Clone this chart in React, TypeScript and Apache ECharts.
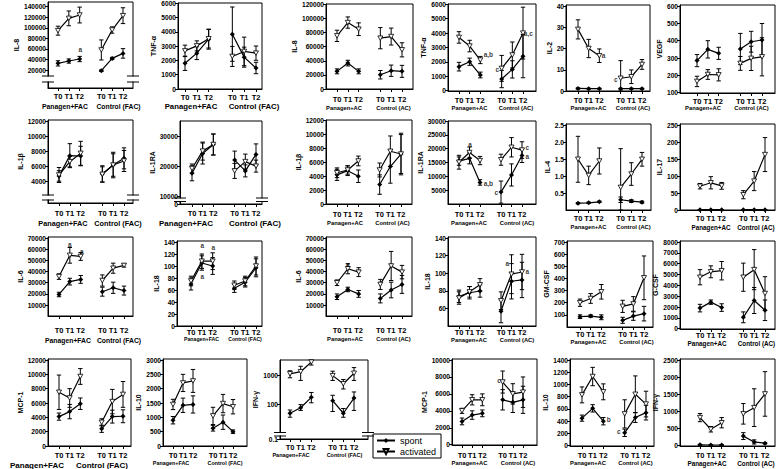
import React, { useEffect, useRef } from 'react';
import * as echarts from 'echarts';

const FONT = '"Liberation Sans", Arial, Helvetica, sans-serif';

const TIME_LABELS = ['T0', 'T1', 'T2', '', 'T0', 'T1', 'T2'];
const X_POS = [0, 1, 2, 4, 5, 6];
const GROUPS_FAC = ['Panagen+FAC', 'Control (FAC)'];
const GROUPS_AC = ['Panagen+AC', 'Control (AC)'];
const LEGEND_NAMES = ['spont', 'activated'];

// values: [Panagen T0, T1, T2, Control T0, T1, T2]
// Row 1
const il8FacSpont = [32600, 37000, 40800, 18700, 42000, 51500];
const il8FacSpontErr = [5000, 4000, 5000, 1500, 2000, 9000];
const il8FacAct = [94500, 117900, 124200, 58000, 95800, 123000];
const il8FacActErr = [8500, 14000, 15000, 19000, 6000, 15000];
const il8FacTicks = [20000, 40000, 60000, 80000, 100000, 120000, 140000];
const il8FacNotes = [[2.05, 58000, 'a']];

const tnfFacSpont = [1800, 2510, 3490, 3840, 2230, 1470];
const tnfFacSpontErr = [500, 450, 700, 1900, 700, 400];
const tnfFacAct = [2670, 3020, 3520, 2280, 2630, 2510];
const tnfFacActErr = [400, 350, 650, 700, 1000, 500];
const tnfFacTicks = [0, 1000, 2000, 3000, 4000, 5000, 6000];

const il8AcSpont = [25000, 36700, 25000, 20200, 25900, 25000];
const il8AcSpontErr = [3500, 4000, 3500, 6000, 8000, 8500];
const il8AcAct = [75300, 94100, 84700, 72000, 74300, 55500];
const il8AcActErr = [8000, 8000, 9000, 15000, 12000, 10000];
const il8AcTicks = [0, 20000, 40000, 60000, 80000, 100000, 120000];

const tnfAcSpont = [1670, 2010, 1090, 810, 1480, 2400];
const tnfAcSpontErr = [300, 250, 200, 600, 600, 1500];
const tnfAcAct = [3700, 3100, 2130, 1550, 2480, 4000];
const tnfAcActErr = [400, 400, 250, 900, 900, 1800];
const tnfAcTicks = [0, 1000, 2000, 3000, 4000, 5000, 6000];
const tnfAcNotes = [[2.75, 2480, 'a,b'], [3.6, 1440, 'c'], [6.5, 4000, 'a,c']];

const il2AcSpont = [1.2, 1.1, 1.1, 1.1, 1.1, 1.1];
const il2AcSpontErr = [0.3, 0.2, 0.2, 0.2, 0.2, 0.2];
const il2AcAct = [29, 20, 16.6, 6, 6.7, 12.5];
const il2AcActErr = [4.5, 4.3, 3.2, 8.3, 3.2, 2.3];
const il2AcTicks = [0, 10, 20, 30, 40];
const il2AcNotes = [[2.4, 16.5, 'a'], [3.55, 5.6, 'c']];

const vegfAcSpont = [285, 350, 327, 352, 394, 404];
const vegfAcSpontErr = [35, 50, 35, 90, 60, 95];
const vegfAcAct = [165, 205, 203, 269, 298, 307];
const vegfAcActErr = [30, 28, 35, 40, 70, 110];
const vegfAcTicks = [100, 200, 300, 400, 500, 600];

// Row 2
const il1bFacSpont = [4670, 7380, 7330, 4930, 6130, 7020];
const il1bFacSpontErr = [700, 1600, 1300, 1100, 1700, 1400];
const il1bFacAct = [4800, 6580, 7690, 4890, 6130, 6670];
const il1bFacActErr = [1000, 700, 1600, 1000, 1500, 1400];
const il1bFacTicks = [4000, 6000, 8000, 10000, 12000];

const il1raFacSpont = [17800, 24400, 27400, 22200, 18600, 24100];
const il1raFacSpontErr = [2500, 3500, 3500, 3000, 2000, 3500];
const il1raFacAct = [19400, 25200, 27400, 18600, 21700, 20200];
const il1raFacActErr = [1500, 3000, 3500, 2500, 2500, 2000];
const il1raFacTicks = [10000, 20000, 30000];

const il1bAcSpont = [4200, 4800, 4000, 2800, 5400, 7200];
const il1bAcSpontErr = [800, 700, 900, 1400, 2400, 2800];
const il1bAcAct = [4500, 4900, 6200, 4900, 7600, 7200];
const il1bAcActErr = [700, 600, 700, 1000, 2200, 3000];
const il1bAcTicks = [0, 2000, 4000, 6000, 8000, 10000, 12000];

const il1raAcSpont = [15500, 16500, 7800, 4300, 10500, 17500];
const il1raAcSpontErr = [1500, 2000, 1000, 4000, 4000, 2500];
const il1raAcAct = [15100, 18600, 15700, 16000, 20500, 19500];
const il1raAcActErr = [2500, 2000, 1500, 2000, 3500, 3000];
const il1raAcTicks = [0, 5000, 10000, 15000, 20000, 25000, 30000];
const il1raAcNotes = [[1.05, 21500, 'a'], [2.8, 7500, 'a,b'], [3.55, 4300, 'c'], [6.5, 20300, 'c'], [6.5, 17300, 'a']];

const il4AcSpont = [0.22, 0.23, 0.26, 0.32, 0.28, 0.25];
const il4AcSpontErr = [0.02, 0.02, 0.02, 0.08, 0.04, 0.03];
const il4AcAct = [1.5, 1.03, 1.45, 0.68, 1.07, 1.5];
const il4AcActErr = [0.67, 0.27, 0.38, 1.13, 0.33, 0.2];
const il4AcTicks = [0, 0.5, 1, 1.5, 2, 2.5];

const il17AcSpont = [1, 1, 1, 1, 1, 1];
const il17AcSpontErr = [0, 0, 0, 0, 0, 0];
const il17AcAct = [70, 80, 71, 45, 85, 163];
const il17AcActErr = [8, 18, 10, 12, 28, 50];
const il17AcTicks = [0, 50, 100, 150, 200, 250];

// Row 3
const il6FacSpont = [19500, 31000, 33000, 22000, 25500, 23000];
const il6FacSpontErr = [2000, 3000, 3500, 4000, 5000, 4000];
const il6FacAct = [35500, 54500, 53500, 32000, 43000, 45500];
const il6FacActErr = [2500, 7000, 3500, 5000, 4500, 1500];
const il6FacTicks = [0, 10000, 20000, 30000, 40000, 50000, 60000, 70000];
const il6FacNotes = [[1, 63800, 'a'], [2.1, 57500, 'a']];

const il18FacSpont = [70, 105, 100, 63, 73, 97];
const il18FacSpontErr = [10, 12, 14, 7, 8, 15];
const il18FacAct = [75, 108, 108, 68, 75, 100];
const il18FacActErr = [8, 12, 14, 7, 8, 15];
const il18FacTicks = [0, 20, 40, 60, 80, 100, 120, 140];
const il18FacNotes = [[1.05, 135, 'a'], [2.05, 131, 'a'], [1.05, 82, 'a']];

const il6AcSpont = [17500, 24000, 20000, 16000, 23500, 28500];
const il6AcSpontErr = [2500, 2000, 3000, 4000, 7000, 8000];
const il6AcAct = [30000, 42500, 39500, 28500, 45000, 39500];
const il6AcActErr = [2500, 4500, 4000, 4500, 13000, 6000];
const il6AcTicks = [0, 10000, 20000, 30000, 40000, 50000, 60000, 70000];
const il6AcNotes = [[1, 46000, 'a']];

const il18AcSpont = [74, 78, 80, 57, 91, 92.5];
const il18AcSpontErr = [7, 7, 7, 13, 20, 20];
const il18AcAct = [72, 79, 87, 69, 99, 101.5];
const il18AcActErr = [7, 6, 7, 10, 22, 20];
const il18AcTicks = [40, 60, 80, 100, 120, 140];
const il18AcNotes = [[4.6, 111, 'a'], [6.5, 101.5, 'a']];

const gmcsfAcSpont = [85, 90, 80, 55, 90, 110];
const gmcsfAcSpontErr = [15, 10, 20, 25, 35, 60];
const gmcsfAcAct = [200, 235, 290, 170, 190, 405];
const gmcsfAcActErr = [30, 40, 60, 50, 60, 180];
const gmcsfAcTicks = [0, 100, 200, 300, 400, 500, 600, 700];

const gcsfAcSpont = [1900, 2450, 1950, 1050, 2600, 1700];
const gcsfAcSpontErr = [350, 200, 350, 500, 1200, 950];
const gcsfAcAct = [4750, 5250, 5350, 4750, 5450, 3250];
const gcsfAcActErr = [700, 550, 850, 1300, 1850, 1550];
const gcsfAcTicks = [0, 1000, 2000, 3000, 4000, 5000, 6000, 7000, 8000];

// Row 4
const mcp1FacSpont = [4100, 4800, 5900, 2400, 4100, 4150];
const mcp1FacSpontErr = [500, 1000, 800, 500, 900, 900];
const mcp1FacAct = [7500, 6700, 9700, 3300, 6200, 7200];
const mcp1FacActErr = [2400, 1300, 1100, 500, 1700, 1800];
const mcp1FacTicks = [0, 2000, 4000, 6000, 8000, 10000, 12000];

const il10FacSpont = [900, 1420, 1450, 620, 830, 500];
const il10FacSpontErr = [130, 250, 300, 100, 250, 60];
const il10FacAct = [1450, 2200, 2270, 1050, 1480, 1370];
const il10FacActErr = [180, 300, 400, 300, 320, 250];
const il10FacTicks = [0, 500, 1000, 1500, 2000, 2500, 3000];

const ifngFacSpont = [48, 74, 170, 130, 48, 160];
const ifngFacSpontLo = [35, 60, 110, 55, 35, 60];
const ifngFacSpontHi = [62, 95, 250, 200, 70, 260];
const ifngFacAct = [1100, 1300, 2800, 950, 500, 1150];
const ifngFacActLo = [800, 650, 2200, 650, 330, 650];
const ifngFacActHi = [1400, 2000, 3400, 1350, 700, 1800];
const ifngFacTicks = [10, 100, 1000];

const mcp1AcSpont = [2750, 3500, 3700, 5300, 5000, 5300];
const mcp1AcSpontErr = [400, 500, 400, 1200, 1200, 1600];
const mcp1AcAct = [4000, 5300, 5300, 7400, 6000, 6200];
const mcp1AcActErr = [300, 600, 700, 1300, 1200, 1800];
const mcp1AcTicks = [0, 2000, 4000, 6000, 8000, 10000];
const mcp1AcNotes = [[3.65, 7600, 'c']];

const il10AcSpont = [450, 610, 400, 210, 460, 540];
const il10AcSpontErr = [50, 60, 60, 60, 80, 120];
const il10AcAct = [830, 1130, 880, 520, 840, 680];
const il10AcActErr = [130, 150, 130, 230, 300, 210];
const il10AcTicks = [0, 200, 400, 600, 800, 1000, 1200, 1400];
const il10AcNotes = [[2.5, 420, 'b'], [3.45, 235, 'c']];

const ifngAcSpont = [25, 20, 20, 280, 110, 70];
const ifngAcSpontErr = [15, 10, 10, 100, 60, 20];
const ifngAcAct = [820, 480, 670, 930, 1110, 1510];
const ifngAcActErr = [120, 80, 150, 300, 550, 650];
const ifngAcTicks = [0, 500, 1000, 1500, 2000, 2500];

type Panel = {
  title: string; groups: string[]; gFont: number;
  gxy: number[]; // [panagen centre x, control centre x, time label y, group label y]
  box: number[]; xs: number[]; refs: number[][];
  ticks: number[]; log?: boolean; bottomLabel?: string; dec?: number;
  brk?: number[];
  spont: number[]; act: number[];
  spontErr?: number[]; actErr?: number[];
  spontLo?: number[]; spontHi?: number[]; actLo?: number[]; actHi?: number[];
  notes?: any[];
};

const SMALL = 5.8;

// (panels listed in drawing order)
const PANELS: Panel[] = [
  { title: 'IL-1RA', groups: GROUPS_FAC, gFont: 8, gxy: [186, 255, 213, 223], box: [180, 121, 262, 204], xs: [192, 256], refs: [[136.7, 30000], [166.7, 20000]], ticks: il1raFacTicks, bottomLabel: '0', brk: [198, 201.5], spont: il1raFacSpont, spontErr: il1raFacSpontErr, act: il1raFacAct, actErr: il1raFacActErr },
  { title: 'IFN-γ', groups: GROUPS_FAC, gFont: 5.5, gxy: [291, 344.5, 447, 455], box: [280, 360, 368, 439], xs: [290, 354], refs: [[375, 1000], [433, 10]], ticks: ifngFacTicks, log: true, bottomLabel: '0.1', brk: [432.5, 436], spont: ifngFacSpont, spontLo: ifngFacSpontLo, spontHi: ifngFacSpontHi, act: ifngFacAct, actLo: ifngFacActLo, actHi: ifngFacActHi },

  { title: 'IL-8', groups: GROUPS_FAC, gFont: 6.8, gxy: [65, 118.5, 96, 106], box: [48, 2, 133, 88], xs: [58, 123], refs: [[6.7, 140000], [70, 20000]], ticks: il8FacTicks, brk: [76, 82], spont: il8FacSpont, spontErr: il8FacSpontErr, act: il8FacAct, actErr: il8FacActErr, notes: il8FacNotes },
  { title: 'TNF-α', groups: GROUPS_FAC, gFont: 7.8, gxy: [191, 254, 97, 106], box: [178, 3, 262, 89], xs: [185, 256], refs: [[3.3, 6000], [89, 0]], ticks: tnfFacTicks, spont: tnfFacSpont, spontErr: tnfFacSpontErr, act: tnfFacAct, actErr: tnfFacActErr },
  { title: 'IL-8', groups: GROUPS_AC, gFont: SMALL, gxy: [344, 393.5, 99, 108], box: [326, 4, 413, 89], xs: [337, 402], refs: [[4.3, 120000], [89, 0]], ticks: il8AcTicks, spont: il8AcSpont, spontErr: il8AcSpontErr, act: il8AcAct, actErr: il8AcActErr },
  { title: 'TNF-α', groups: GROUPS_AC, gFont: SMALL, gxy: [469.5, 516, 100, 108], box: [448, 4, 536, 91], xs: [459, 523], refs: [[4.3, 6000], [90.7, 0]], ticks: tnfAcTicks, spont: tnfAcSpont, spontErr: tnfAcSpontErr, act: tnfAcAct, actErr: tnfAcActErr, notes: tnfAcNotes },
  { title: 'IL-2', groups: GROUPS_AC, gFont: SMALL, gxy: [588.5, 633, 100, 108], box: [566, 5, 650, 91], xs: [578, 642], refs: [[6, 40], [91, 0]], ticks: il2AcTicks, spont: il2AcSpont, spontErr: il2AcSpontErr, act: il2AcAct, actErr: il2AcActErr, notes: il2AcNotes },
  { title: 'VEGF', groups: GROUPS_AC, gFont: SMALL, gxy: [703, 751.5, 101, 108], box: [680, 5, 775, 93], xs: [697, 762], refs: [[6, 600], [92.7, 100]], ticks: vegfAcTicks, spont: vegfAcSpont, spontErr: vegfAcSpontErr, act: vegfAcAct, actErr: vegfAcActErr },

  { title: 'IL-1β', groups: GROUPS_FAC, gFont: 7.3, gxy: [63, 118, 213, 223], box: [48, 120, 133, 203], xs: [59, 124], refs: [[121, 12000], [181, 4000]], ticks: il1bFacTicks, brk: [195, 200], spont: il1bFacSpont, spontErr: il1bFacSpontErr, act: il1bFacAct, actErr: il1bFacActErr },
  { title: 'IL-1β', groups: GROUPS_AC, gFont: SMALL, gxy: [345, 392.5, 214, 223], box: [326, 120, 412, 204], xs: [337, 401], refs: [[120.7, 12000], [204, 0]], ticks: il1bAcTicks, spont: il1bAcSpont, spontErr: il1bAcSpontErr, act: il1bAcAct, actErr: il1bAcActErr },
  { title: 'IL-1RA', groups: GROUPS_AC, gFont: SMALL, gxy: [469, 517, 214, 223], box: [448, 121, 536, 204], xs: [459, 522], refs: [[121, 30000], [204, 0]], ticks: il1raAcTicks, spont: il1raAcSpont, spontErr: il1raAcSpontErr, act: il1raAcAct, actErr: il1raAcActErr, notes: il1raAcNotes },
  { title: 'IL-4', groups: GROUPS_AC, gFont: SMALL, gxy: [588.5, 633.5, 218, 227], box: [566, 124, 651, 210], xs: [578, 642], refs: [[125, 2.5], [210.7, 0]], ticks: il4AcTicks, dec: 1, spont: il4AcSpont, spontErr: il4AcSpontErr, act: il4AcAct, actErr: il4AcActErr },
  { title: 'IL-17', groups: GROUPS_AC, gFont: 6.3, gxy: [711, 756, 218, 227], box: [680, 124, 775, 210], xs: [700, 765], refs: [[125, 250], [210, 0]], ticks: il17AcTicks, spont: il17AcSpont, spontErr: il17AcSpontErr, act: il17AcAct, actErr: il17AcActErr },

  { title: 'IL-6', groups: GROUPS_FAC, gFont: 6.8, gxy: [68, 119, 330, 340], box: [48, 237, 133, 316], xs: [59, 124], refs: [[238, 70000], [316.3, 0]], ticks: il6FacTicks, spont: il6FacSpont, spontErr: il6FacSpontErr, act: il6FacAct, actErr: il6FacActErr, notes: il6FacNotes },
  { title: 'IL-18', groups: GROUPS_FAC, gFont: 5.2, gxy: [201.5, 245, 331, 339], box: [177, 241, 262, 326], xs: [191, 256], refs: [[242, 140], [326, 0]], ticks: il18FacTicks, spont: il18FacSpont, spontErr: il18FacSpontErr, act: il18FacAct, actErr: il18FacActErr, notes: il18FacNotes },
  { title: 'IL-6', groups: GROUPS_AC, gFont: SMALL, gxy: [345, 393.5, 330, 339], box: [326, 237, 412, 316], xs: [337, 402], refs: [[238, 70000], [316.3, 0]], ticks: il6AcTicks, spont: il6AcSpont, spontErr: il6AcSpontErr, act: il6AcAct, actErr: il6AcActErr, notes: il6AcNotes },
  { title: 'IL-18', groups: GROUPS_AC, gFont: SMALL, gxy: [469, 517, 332, 340], box: [448, 237, 536, 326], xs: [459, 522], refs: [[238, 140], [326.3, 40]], ticks: il18AcTicks, spont: il18AcSpont, spontErr: il18AcSpontErr, act: il18AcAct, actErr: il18AcActErr, notes: il18AcNotes },
  { title: 'GM-CSF', groups: GROUPS_AC, gFont: SMALL, gxy: [588.5, 636.5, 334, 342], box: [567, 241, 653, 327], xs: [580, 644], refs: [[242, 700], [327, 0]], ticks: gmcsfAcTicks, spont: gmcsfAcSpont, spontErr: gmcsfAcSpontErr, act: gmcsfAcAct, actErr: gmcsfAcActErr },
  { title: 'G-CSF', groups: GROUPS_AC, gFont: 6.3, gxy: [707, 756.5, 335, 343], box: [680, 241, 775, 329], xs: [700, 765], refs: [[242, 8000], [328.7, 0]], ticks: gcsfAcTicks, spont: gcsfAcSpont, spontErr: gcsfAcSpontErr, act: gcsfAcAct, actErr: gcsfAcActErr },

  { title: 'MCP-1', groups: GROUPS_FAC, gFont: 8, gxy: [37, 102, 455, 465], box: [48, 359, 131, 446], xs: [59, 123], refs: [[360, 12000], [446, 0]], ticks: mcp1FacTicks, spont: mcp1FacSpont, spontErr: mcp1FacSpontErr, act: mcp1FacAct, actErr: mcp1FacActErr },
  { title: 'IL-10', groups: GROUPS_FAC, gFont: 5.4, gxy: [171, 225, 455, 463], box: [163, 359, 247, 446], xs: [173, 233], refs: [[360, 3000], [446, 0]], ticks: il10FacTicks, spont: il10FacSpont, spontErr: il10FacSpontErr, act: il10FacAct, actErr: il10FacActErr },
  { title: 'MCP-1', groups: GROUPS_AC, gFont: SMALL, gxy: [469.5, 518, 455, 463], box: [452, 359, 537, 445], xs: [462, 523], refs: [[360, 10000], [444.7, 0]], ticks: mcp1AcTicks, spont: mcp1AcSpont, spontErr: mcp1AcSpontErr, act: mcp1AcAct, actErr: mcp1AcActErr, notes: mcp1AcNotes },
  { title: 'IL-10', groups: GROUPS_AC, gFont: SMALL, gxy: [588, 635.5, 455, 463], box: [570, 359, 654, 446], xs: [582, 646], refs: [[360, 1400], [445.7, 0]], ticks: il10AcTicks, spont: il10AcSpont, spontErr: il10AcSpontErr, act: il10AcAct, actErr: il10AcActErr, notes: il10AcNotes },
  { title: 'IFN-γ', groups: GROUPS_AC, gFont: 6.3, gxy: [707, 756, 455, 463], box: [680, 359, 775, 446], xs: [700, 765], refs: [[360, 2500], [445.7, 0]], ticks: ifngAcTicks, spont: ifngAcSpont, spontErr: ifngAcSpontErr, act: ifngAcAct, actErr: ifngAcActErr },
];

const DOWN_TRI = 'path://M0,0 L10,0 L5,9 Z';
const T_FONT = 7.5;

function renderErr(params: any, api: any) {
  const x = api.value(0), lo = api.value(1), hi = api.value(2);
  const a = api.coord([x, hi]);
  const b = api.coord([x, lo]);
  const w = 2.2;
  const st = { stroke: '#000', lineWidth: 1 };
  return {
    type: 'group',
    children: [
      { type: 'line', shape: { x1: a[0], y1: a[1], x2: b[0], y2: b[1] }, style: st },
      { type: 'line', shape: { x1: a[0] - w, y1: a[1], x2: a[0] + w, y2: a[1] }, style: st },
      { type: 'line', shape: { x1: b[0] - w, y1: b[1], x2: b[0] + w, y2: b[1] }, style: st },
    ],
  };
}

function buildOption() {
  const grid: any[] = [];
  const xAxis: any[] = [];
  const yAxis: any[] = [];
  const series: any[] = [];
  const graphic: any[] = [];

  PANELS.forEach((p, i) => {
    const [l, t, r, b] = p.box;
    grid.push({ left: l, top: t, width: r - l, height: b - t, show: true, borderColor: '#000', borderWidth: 1, backgroundColor: 'transparent', containLabel: false, outerBoundsMode: 'none' });
    const unit = (p.xs[1] - p.xs[0]) / 6;
    const xmin = -(p.xs[0] - l) / unit;
    const xmax = 6 + (r - p.xs[1]) / unit;
    // log panels are drawn on a log10-transformed value axis
    const tf = (v: number) => (p.log ? Math.log10(v) : v);
    const [[pa, va], [pb, vb]] = p.refs;
    const slope = (tf(vb) - tf(va)) / (pb - pa);
    const ymax = tf(va) + (t - pa) * slope;
    const ymin = tf(va) + (b - pa) * slope;
    const tickPos = p.ticks.map(tf);
    const yVals = p.bottomLabel ? [ymin, ...tickPos] : tickPos;
    const near = (v: number, w: number) => Math.abs(v - w) <= Math.abs(w) * 1e-6 + 1e-9;
    const fmtY = (v: number) => {
      if (p.bottomLabel && near(v, ymin)) return p.bottomLabel;
      if (p.log) return String(Math.round(Math.pow(10, v)));
      return p.dec ? v.toFixed(p.dec) : String(v);
    };
    const maxChars = Math.max(...yVals.map((v) => fmtY(v).length));
    const [g1, g2, tY, gY] = p.gxy;

    xAxis.push({
      type: 'value', gridIndex: i, min: xmin, max: xmax, position: 'bottom',
      axisLine: { show: true, onZero: false, lineStyle: { color: '#000', width: 1 } },
      axisTick: { show: true, customValues: X_POS, length: 3, lineStyle: { color: '#000' } },
      axisLabel: { customValues: X_POS, showMinLabel: true, showMaxLabel: true, hideOverlap: false, formatter: (v: number) => TIME_LABELS[Math.round(v)], fontSize: T_FONT, fontWeight: 'bold', fontFamily: FONT, color: '#000', margin: Math.max(2, tY - b - T_FONT / 2) },
      splitLine: { show: false },
    });
    yAxis.push({
      type: 'value', gridIndex: i, min: ymin, max: ymax, position: 'left',
      axisLine: { show: true, onZero: false, lineStyle: { color: '#000', width: 1 } },
      axisTick: { show: true, customValues: yVals, length: 3, lineStyle: { color: '#000' } },
      axisLabel: { customValues: yVals, showMinLabel: true, showMaxLabel: true, hideOverlap: false, formatter: fmtY, fontSize: 6.6, fontWeight: 'bold', fontFamily: FONT, color: '#000', margin: 2 },
      splitLine: { show: false },
      name: p.title, nameLocation: 'middle', nameGap: maxChars * 3.6 + 4,
      nameTextStyle: { fontSize: 7, fontWeight: 'bold', fontFamily: FONT, color: '#000' },
    });

    [g1, g2].forEach((gx, k) => {
      graphic.push({
        type: 'text', id: `grp-${i}-${k}`, x: gx, y: gY, z: 50, silent: true,
        style: { text: p.groups[k], fill: '#000', font: `bold ${p.gFont}px ${FONT}`, align: 'center', verticalAlign: 'middle' },
      });
    });

    const mk = (vals: number[], name: string, filled: boolean) => {
      [0, 1].forEach((g) => {
        series.push({
          type: 'line', name, xAxisIndex: i, yAxisIndex: i, z: 3, silent: true,
          data: [0, 1, 2].map((k) => [X_POS[g * 3 + k], tf(vals[g * 3 + k])]),
          symbol: filled ? 'diamond' : DOWN_TRI, symbolSize: filled ? 5 : [5, 4.5],
          lineStyle: { color: '#000', width: 1.2 },
          itemStyle: filled ? { color: '#000' } : { color: '#fff', borderColor: '#000', borderWidth: 0.8 },
        });
      });
    };
    mk(p.spont, LEGEND_NAMES[0], true);
    mk(p.act, LEGEND_NAMES[1], false);

    const errData: number[][] = [];
    const addErr = (vals: number[], err?: number[], lo?: number[], hi?: number[]) => {
      vals.forEach((v, k) => {
        let a = tf(lo ? lo[k] : v - (err ? err[k] : 0));
        let c = tf(hi ? hi[k] : v + (err ? err[k] : 0));
        a = Math.max(a, ymin);
        c = Math.min(c, ymax);
        errData.push([X_POS[k], a, c]);
      });
    };
    addErr(p.spont, p.spontErr, p.spontLo, p.spontHi);
    addErr(p.act, p.actErr, p.actLo, p.actHi);
    series.push({ type: 'custom', xAxisIndex: i, yAxisIndex: i, z: 2, silent: true, renderItem: renderErr, encode: { x: 0, y: [1, 2] }, data: errData });

    if (p.notes) {
      series.push({
        type: 'scatter', xAxisIndex: i, yAxisIndex: i, z: 4, silent: true, symbolSize: 1,
        itemStyle: { color: 'transparent' },
        data: p.notes.map((n: any) => [n[0], tf(n[1]), n[2]]),
        label: { show: true, position: 'inside', formatter: (q: any) => q.value[2], fontSize: 6.5, fontWeight: 'bold', fontFamily: FONT, color: '#000' },
      });
    }

    if (p.brk) {
      const [y1, y2] = p.brk;
      [l, r].forEach((sx, s) => {
        graphic.push({ type: 'rect', id: `brk-${i}-${s}-r`, z: 100, silent: true, shape: { x: sx - 2, y: y1 + 0.5, width: 4, height: y2 - y1 - 1 }, style: { fill: '#fff' } });
        graphic.push({ type: 'line', id: `brk-${i}-${s}-a`, z: 101, silent: true, shape: { x1: sx - 6, y1: y1, x2: sx + 6, y2: y1 }, style: { stroke: '#000', lineWidth: 1 } });
        graphic.push({ type: 'line', id: `brk-${i}-${s}-b`, z: 101, silent: true, shape: { x1: sx - 6, y1: y2, x2: sx + 6, y2: y2 }, style: { stroke: '#000', lineWidth: 1 } });
      });
    }
  });

  return {
    animation: false,
    backgroundColor: '#fff',
    textStyle: { fontFamily: FONT },
    grid, xAxis, yAxis, series, graphic,
    legend: {
      data: LEGEND_NAMES, orient: 'vertical', left: 373, top: 434,
      borderColor: '#000', borderWidth: 1, padding: [2, 5, 2, 3], itemGap: 2,
      itemWidth: 18, itemHeight: 6, selectedMode: false,
      textStyle: { fontSize: 9, fontFamily: FONT, color: '#000' },
    },
  };
}

export default function App() {
  const ref = useRef<HTMLDivElement>(null);
  useEffect(() => {
    document.body.style.margin = '0';
    const chart = echarts.init(ref.current!, null, { renderer: 'svg' });
    chart.setOption(buildOption() as any);
    return () => chart.dispose();
  }, []);
  return <div ref={ref} style={{ width: 778, height: 469 }} />;
}
